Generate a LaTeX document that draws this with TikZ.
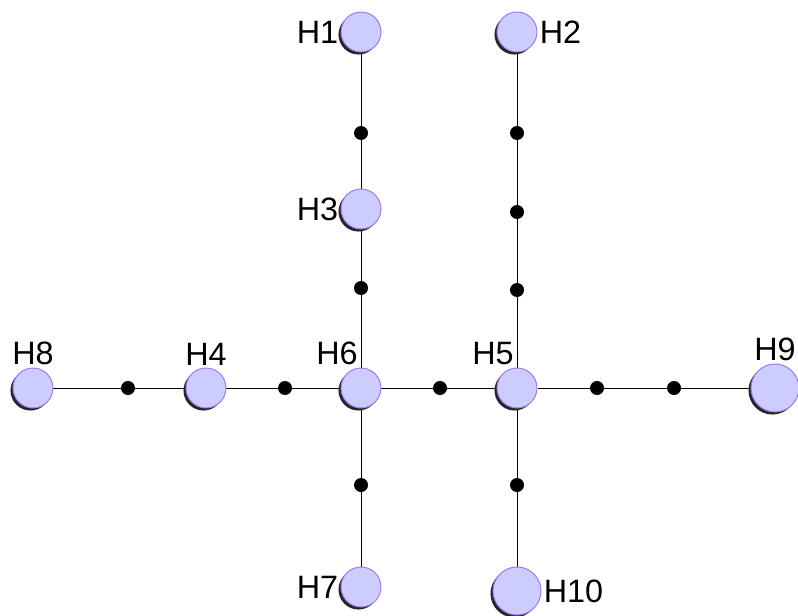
\documentclass[tikz,border=0pt]{standalone}
\usepackage{fontspec}
\setmainfont{Liberation Sans}
\usetikzlibrary{shadows,backgrounds}

\definecolor{hostfill}{RGB}{204,204,255}
\definecolor{hostrim}{RGB}{160,120,235}

\begin{document}
\begin{tikzpicture}[
  host/.style={circle, minimum size=1cm, inner sep=0pt, fill=hostfill, draw=hostrim, line width=0.7pt,
    drop shadow={shadow xshift=-1.8pt, shadow yshift=-1.8pt, fill=black!85, opacity=1}},
  host-big/.style={host, minimum size=1.2cm},
  relay/.style={circle, fill=black, inner sep=0pt, minimum size=0.35cm},
  link/.style={line width=0.65pt},
  every label/.style={font=\fontsize{23}{23}\selectfont, inner sep=1.5pt},
  label distance=0pt
]
  \useasboundingbox (0,0) rectangle (19.95,15.375);

  \node (h1) at (9.025, 14.575) [host, label=left:H1] {};
  \node (h2) at (12.925, 14.575) [host, label=right:H2] {};
  \node (h3) at (9.025, 10.15) [host, label=left:H3] {};
  \node (h6) at (9.025, 5.675) [host, label={[xshift=-0.6cm]above:H6}] {};
  \node (h5) at (12.925, 5.675) [host, label={[xshift=-0.6cm]above:H5}] {};
  \node (h4) at (5.15, 5.675) [host, label=above:H4] {};
  \node (h8) at (0.825, 5.675) [host, label=above:H8] {};
  \node (h9) at (19.375, 5.675) [host-big, label=above:H9] {};
  \node (h7) at (9.025, 0.7) [host, label=left:H7] {};
  \node (h10) at (12.925, 0.6) [host-big, label=right:H10] {};

  % relay points on the links
  \node (h1-h3) at (9.025, 12.05) [relay] {};
  \node (h3-h6) at (9.025, 8.175) [relay] {};
  \node (h6-h7) at (9.025, 3.25) [relay] {};
  \node (h2-h5-a) at (12.925, 12.05) [relay] {};
  \node (h2-h5-b) at (12.925, 10.075) [relay] {};
  \node (h2-h5-c) at (12.925, 8.125) [relay] {};
  \node (h5-h10) at (12.925, 3.25) [relay] {};
  \node (h8-h4) at (3.2, 5.675) [relay] {};
  \node (h4-h6) at (7.125, 5.675) [relay] {};
  \node (h6-h5) at (11.0, 5.675) [relay] {};
  \node (h5-h9-a) at (14.925, 5.675) [relay] {};
  \node (h5-h9-b) at (16.85, 5.675) [relay] {};

  \begin{scope}[on background layer]
    \draw[link] (h1) -- (h1-h3) -- (h3) -- (h3-h6) -- (h6) -- (h6-h7) -- (h7);
    \draw[link] (h2) -- (h2-h5-a) -- (h2-h5-b) -- (h2-h5-c) -- (h5) -- (h5-h10) -- (h10);
    \draw[link] (h8) -- (h8-h4) -- (h4) -- (h4-h6) -- (h6) -- (h6-h5) -- (h5) -- (h5-h9-a) -- (h5-h9-b) -- (h9);
  \end{scope}

\end{tikzpicture}
\end{document}
